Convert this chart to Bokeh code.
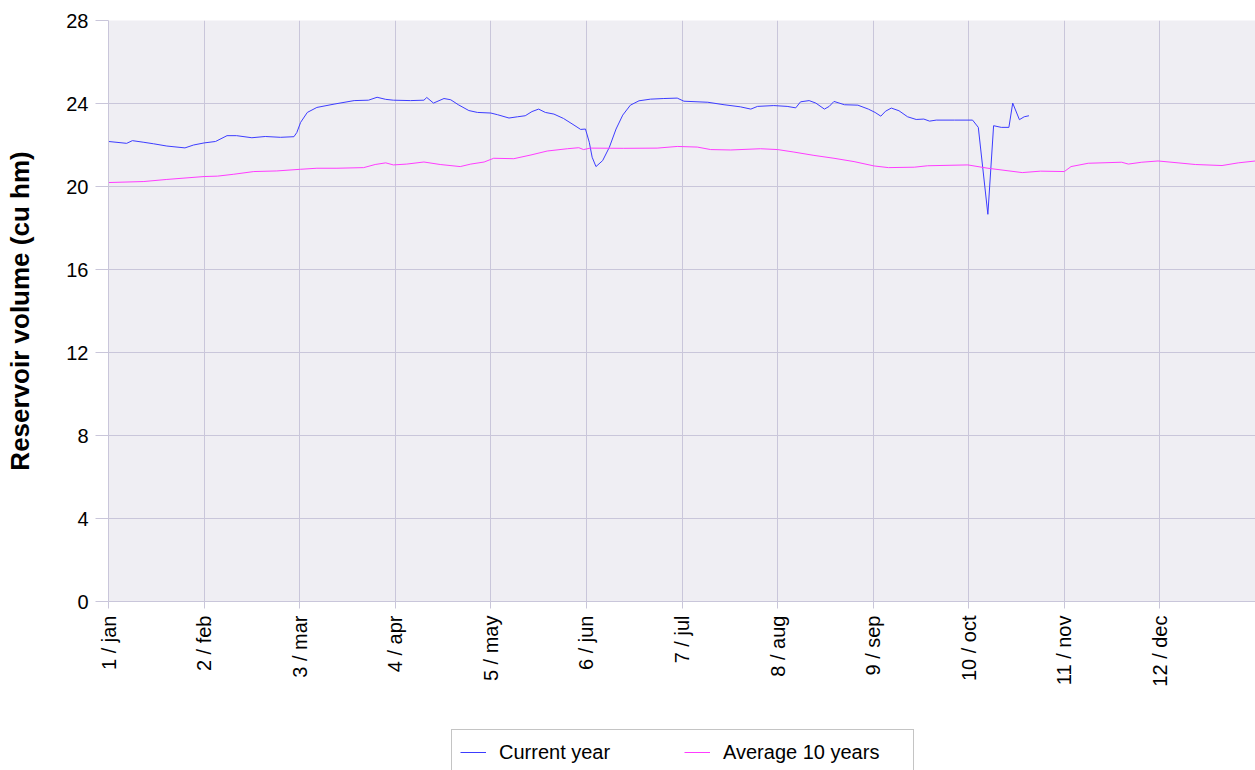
import math
from bokeh.plotting import figure
from bokeh.layouts import column
from bokeh.models import Legend, LegendItem, FixedTicker, Range1d
from bokeh.embed import file_html
from bokeh.resources import INLINE

month_labels = ["1 / jan", "2 / feb", "3 / mar", "4 / apr", "5 / may", "6 / jun",
                "7 / jul", "8 / aug", "9 / sep", "10 / oct", "11 / nov", "12 / dec"]
y_ticks = [0, 4, 8, 12, 16, 20, 24, 28]

# x positions are in months since 1 January (month index + fraction)
current_x = [0.00, 0.19, 0.25, 0.37, 0.47, 0.61, 0.80, 0.89, 1.00, 1.12, 1.24, 1.34, 1.50, 1.64,
             1.80, 1.94, 1.97, 2.01, 2.08, 2.18, 2.36, 2.57, 2.72, 2.81, 2.90, 2.98, 3.16, 3.30,
             3.33, 3.40, 3.51, 3.58, 3.66, 3.77, 3.86, 4.00, 4.07, 4.19, 4.28, 4.36, 4.43, 4.50,
             4.57, 4.66, 4.76, 4.87, 4.94, 4.99, 5.03, 5.06, 5.10, 5.17, 5.24, 5.31, 5.38, 5.46,
             5.55, 5.67, 5.81, 5.95, 6.02, 6.27, 6.44, 6.61, 6.72, 6.79, 6.96, 7.10, 7.19, 7.24,
             7.33, 7.40, 7.49, 7.54, 7.59, 7.70, 7.84, 7.95, 8.02, 8.08, 8.13, 8.19, 8.27, 8.36,
             8.45, 8.53, 8.59, 8.66, 8.85, 9.04, 9.10, 9.20, 9.26, 9.34, 9.42, 9.46, 9.53, 9.58,
             9.63]
current_y = [22.17, 22.08, 22.21, 22.13, 22.06, 21.95, 21.86, 22.00, 22.10, 22.17, 22.45, 22.45,
             22.35, 22.41, 22.37, 22.40, 22.60, 23.09, 23.57, 23.81, 23.97, 24.14, 24.16, 24.30,
             24.20, 24.16, 24.14, 24.16, 24.29, 24.02, 24.24, 24.18, 23.94, 23.66, 23.57, 23.54,
             23.46, 23.30, 23.36, 23.41, 23.61, 23.73, 23.57, 23.49, 23.28, 22.96, 22.75, 22.77,
             22.13, 21.41, 20.96, 21.25, 21.89, 22.77, 23.44, 23.92, 24.13, 24.21, 24.24, 24.26,
             24.11, 24.06, 23.94, 23.84, 23.73, 23.86, 23.90, 23.86, 23.79, 24.08, 24.14, 24.02,
             23.73, 23.86, 24.10, 23.94, 23.92, 23.73, 23.57, 23.39, 23.63, 23.78, 23.65, 23.36,
             23.23, 23.25, 23.15, 23.20, 23.20, 23.20, 22.85, 18.66, 22.93, 22.85, 22.85, 24.02,
             23.22, 23.36, 23.41]

average_x = [0.00, 0.37, 0.61, 1.00, 1.14, 1.31, 1.52, 1.76, 2.01, 2.18, 2.39, 2.67, 2.79, 2.90,
             2.98, 3.12, 3.30, 3.47, 3.68, 3.79, 3.93, 4.03, 4.24, 4.42, 4.59, 4.80, 4.92, 4.97,
             5.04, 5.39, 5.74, 5.95, 6.16, 6.30, 6.51, 6.82, 7.00, 7.17, 7.38, 7.59, 7.80, 8.01,
             8.16, 8.43, 8.57, 8.99, 9.20, 9.56, 9.75, 10.00, 10.07, 10.25, 10.60, 10.67, 10.81,
             10.98, 11.19, 11.37, 11.65, 11.82, 12.00]
average_y = [20.19, 20.24, 20.34, 20.48, 20.50, 20.59, 20.72, 20.75, 20.83, 20.88, 20.88, 20.91,
             21.06, 21.14, 21.04, 21.08, 21.18, 21.06, 20.96, 21.08, 21.18, 21.36, 21.34, 21.52,
             21.71, 21.82, 21.87, 21.78, 21.85, 21.84, 21.85, 21.93, 21.90, 21.78, 21.76, 21.82,
             21.78, 21.66, 21.50, 21.36, 21.20, 20.99, 20.91, 20.93, 21.00, 21.04, 20.88, 20.67,
             20.74, 20.72, 20.96, 21.12, 21.17, 21.08, 21.17, 21.23, 21.14, 21.06, 21.01, 21.14,
             21.23]

FONT = "Liberation Sans"
GRID = "#c9c6da"
BLUE = "#3c3cff"
MAGENTA = "#ff3cff"

p = figure(width=1255, height=729, output_backend="svg", toolbar_location=None,
           x_range=Range1d(0, 12), y_range=Range1d(0, 28),
           min_border_left=108, min_border_right=0, min_border_top=20, min_border_bottom=128)
p.background_fill_color = "#efeef3"
p.border_fill_color = "white"
p.outline_line_color = None

p.xaxis.ticker = FixedTicker(ticks=list(range(13)))
p.xaxis.major_label_overrides = {i: lab for i, lab in enumerate(month_labels)} | {12: ""}
p.xaxis.major_label_orientation = math.pi / 2
p.yaxis.ticker = FixedTicker(ticks=y_ticks)

for ax in (p.xaxis, p.yaxis):
    ax.axis_line_color = GRID
    ax.major_tick_line_color = GRID
    ax.minor_tick_line_color = None
    ax.major_tick_in = 0
    ax.major_label_text_font = FONT
    ax.major_label_text_font_size = "20px"
    ax.major_label_text_color = "black"
    ax.major_label_standoff = 7
p.xaxis.major_tick_out = 7
p.yaxis.major_tick_out = 13

p.yaxis.axis_label = "Reservoir volume (cu hm)"
p.yaxis.axis_label_text_font = FONT
p.yaxis.axis_label_text_font_size = "26px"
p.yaxis.axis_label_text_font_style = "bold"
p.yaxis.axis_label_text_color = "black"
p.yaxis.axis_label_standoff = 28

p.xgrid.grid_line_color = GRID
p.ygrid.grid_line_color = GRID

p.line(current_x, current_y, line_color=BLUE, line_width=1)
p.line(average_x, average_y, line_color=MAGENTA, line_width=1)

# legend strip below the chart
q = figure(width=1255, height=41, output_backend="svg", toolbar_location=None,
           x_range=Range1d(0, 12), y_range=Range1d(100, 101),
           x_axis_location=None, y_axis_location=None,
           min_border_left=0, min_border_right=0, min_border_top=0, min_border_bottom=0)
q.grid.visible = False
q.outline_line_color = None
q.background_fill_color = "white"
q.border_fill_color = "white"
l_cur = q.line(current_x, current_y, line_color=BLUE, line_width=1)
l_avg = q.line(average_x, average_y, line_color=MAGENTA, line_width=1)

legend = Legend(items=[LegendItem(label="Current year", renderers=[l_cur]),
                       LegendItem(label="Average 10 years", renderers=[l_avg])],
                orientation="horizontal", location=(343, -5))
legend.label_text_font = FONT
legend.label_text_font_size = "20px"
legend.label_text_color = "black"
legend.glyph_width = 26
legend.glyph_height = 28
legend.label_standoff = 13
legend.label_width = 182
legend.spacing = 3
legend.padding = 8
legend.margin = 0
legend.border_line_color = "#8a8a8a"
legend.border_line_width = 1
legend.background_fill_color = "white"
legend.background_fill_alpha = 1
q.add_layout(legend, "center")

layout = column(p, q, spacing=0)
open("out.html", "w").write(file_html(layout, INLINE))
